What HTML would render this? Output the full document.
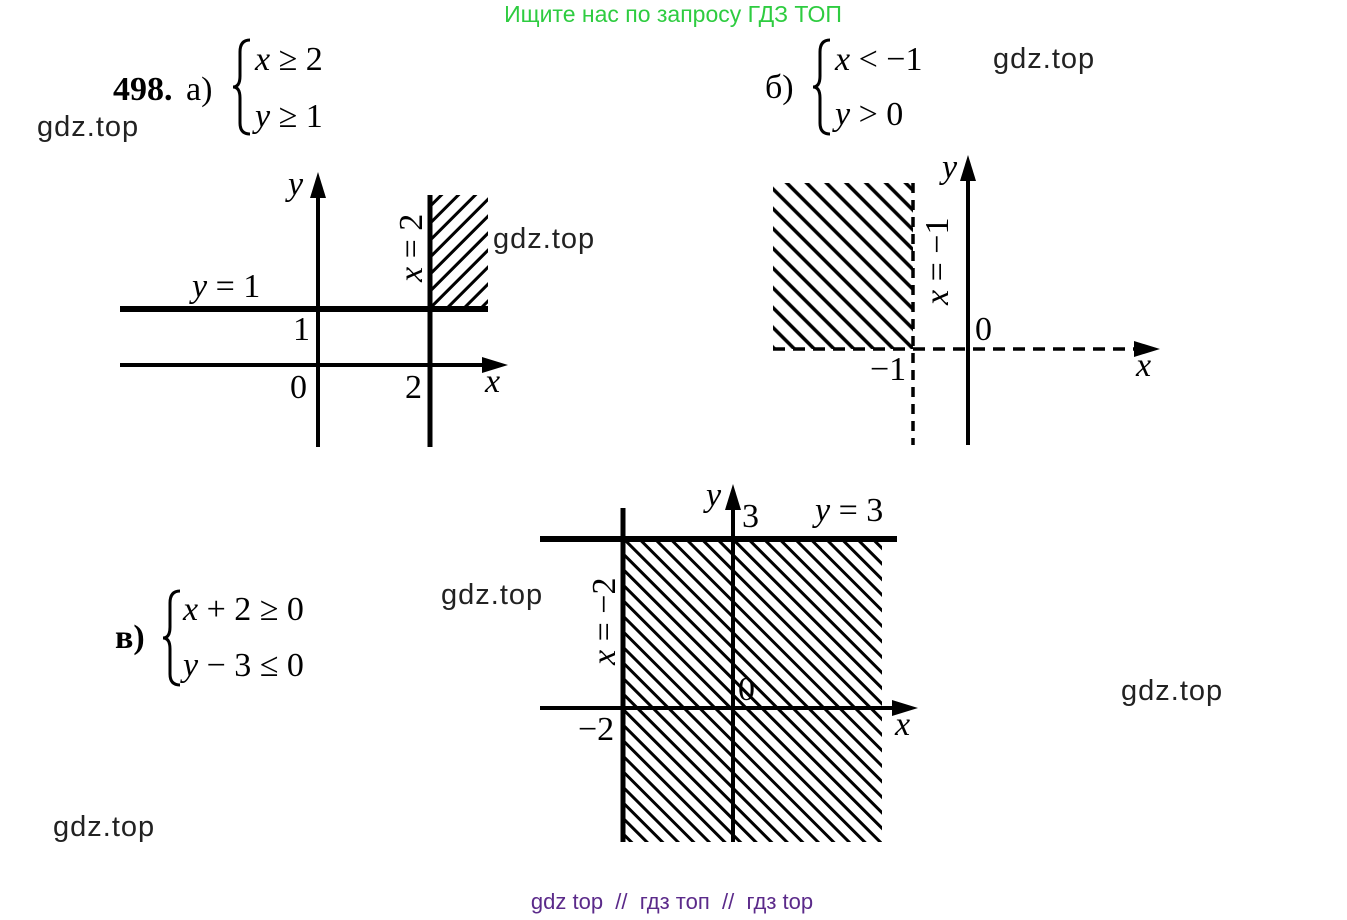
<!DOCTYPE html>
<html><head><meta charset="utf-8"><style>
body{margin:0;background:#fff}
svg{display:block}
.s{font-family:"Liberation Serif",serif;font-size:34px;fill:#000}
.i{font-style:italic}
.w{font-family:"Liberation Sans",sans-serif;font-size:29px;fill:#222;letter-spacing:1px}
</style></head><body>
<svg width="1347" height="920" viewBox="0 0 1347 920" xmlns="http://www.w3.org/2000/svg">
<defs>
<pattern id="pa" width="12" height="12" patternUnits="userSpaceOnUse" patternTransform="rotate(45)"><line x1="6" y1="0" x2="6" y2="12" stroke="#000" stroke-width="3"/></pattern>
<pattern id="pb" width="14" height="14" patternUnits="userSpaceOnUse" patternTransform="rotate(-45)"><line x1="7" y1="0" x2="7" y2="14" stroke="#000" stroke-width="3.5"/></pattern>
<pattern id="pc" width="11" height="11" patternUnits="userSpaceOnUse" patternTransform="rotate(-45)"><line x1="5" y1="0" x2="5" y2="11" stroke="#000" stroke-width="3"/></pattern>
</defs>
<text x="673" y="22" text-anchor="middle" font-family="Liberation Sans,sans-serif" font-size="23" fill="#2ecc40">Ищите нас по запросу ГДЗ ТОП</text>

<!-- a -->
<text x="113" y="100" class="s" font-weight="bold">498.</text>
<text x="186" y="100" class="s">а)</text>
<path d="M250 40 Q240 40 240 52 L240 76 Q240 87 233 87 Q240 87 240 98 L240 123 Q240 134 250 134" fill="none" stroke="#000" stroke-width="3"/>
<text x="255" y="70" class="s"><tspan class="i">x</tspan> ≥ 2</text>
<text x="255" y="127" class="s"><tspan class="i">y</tspan> ≥ 1</text>
<text x="37" y="136" class="w">gdz.top</text>

<rect x="430" y="195" width="58" height="114" fill="url(#pa)"/>
<line x1="318" y1="190" x2="318" y2="447" stroke="#000" stroke-width="4"/>
<polygon points="318,172 310,198 326,198"/>
<line x1="120" y1="365" x2="490" y2="365" stroke="#000" stroke-width="4"/>
<polygon points="508,365 482,357 482,373"/>
<line x1="120" y1="309" x2="488" y2="309" stroke="#000" stroke-width="6"/>
<line x1="430" y1="195" x2="430" y2="447" stroke="#000" stroke-width="5"/>
<text x="288" y="195" class="s i">y</text>
<text x="192" y="297" class="s"><tspan class="i">y</tspan> = 1</text>
<text x="293" y="340" class="s">1</text>
<text x="290" y="398" class="s">0</text>
<text x="405" y="398" class="s">2</text>
<text x="485" y="392" class="s i">x</text>
<text transform="translate(422,282) rotate(-90)" class="s"><tspan class="i">x</tspan> = 2</text>
<text x="493" y="248" class="w">gdz.top</text>

<!-- b -->
<text x="765" y="98" class="s">б)</text>
<path d="M830 40 Q820 40 820 52 L820 76 Q820 87 813 87 Q820 87 820 98 L820 123 Q820 134 830 134" fill="none" stroke="#000" stroke-width="3"/>
<text x="835" y="70" class="s"><tspan class="i">x</tspan> &lt; −1</text>
<text x="835" y="125" class="s"><tspan class="i">y</tspan> &gt; 0</text>
<text x="993" y="68" class="w">gdz.top</text>

<rect x="773" y="183" width="140" height="166" fill="url(#pb)"/>
<line x1="913" y1="183" x2="913" y2="445" stroke="#000" stroke-width="3.5" stroke-dasharray="10,7"/>
<line x1="773" y1="349" x2="1140" y2="349" stroke="#000" stroke-width="3.5" stroke-dasharray="12,8"/>
<polygon points="1160,349 1134,341 1134,357"/>
<line x1="968" y1="175" x2="968" y2="445" stroke="#000" stroke-width="4"/>
<polygon points="968,155 960,181 976,181"/>
<text x="942" y="178" class="s i">y</text>
<text transform="translate(948,305) rotate(-90)" class="s"><tspan class="i">x</tspan> = −1</text>
<text x="975" y="340" class="s">0</text>
<text x="870" y="380" class="s">−1</text>
<text x="1136" y="376" class="s i">x</text>

<!-- c -->
<text x="115" y="648" class="s" font-weight="bold">в)</text>
<path d="M180 591 Q170 591 170 603 L170 627 Q170 638 163 638 Q170 638 170 649 L170 674 Q170 685 180 685" fill="none" stroke="#000" stroke-width="3"/>
<text x="183" y="620" class="s"><tspan class="i">x</tspan> + 2 ≥ 0</text>
<text x="183" y="676" class="s"><tspan class="i">y</tspan> − 3 ≤ 0</text>
<text x="441" y="604" class="w">gdz.top</text>
<text x="1121" y="700" class="w">gdz.top</text>
<text x="53" y="836" class="w">gdz.top</text>

<rect x="623" y="539" width="259" height="303" fill="url(#pc)"/>
<line x1="623" y1="508" x2="623" y2="842" stroke="#000" stroke-width="5"/>
<line x1="733" y1="502" x2="733" y2="842" stroke="#000" stroke-width="4"/>
<polygon points="733,484 725,510 741,510"/>
<line x1="540" y1="539" x2="897" y2="539" stroke="#000" stroke-width="6"/>
<line x1="540" y1="708" x2="900" y2="708" stroke="#000" stroke-width="4"/>
<polygon points="918,708 892,700 892,716"/>
<text x="706" y="506" class="s i">y</text>
<text x="742" y="527" class="s">3</text>
<text x="815" y="521" class="s"><tspan class="i">y</tspan> = 3</text>
<text transform="translate(615,665) rotate(-90)" class="s"><tspan class="i">x</tspan> = −2</text>
<text x="738" y="700" class="s">0</text>
<text x="578" y="740" class="s">−2</text>
<text x="895" y="735" class="s i">x</text>

<text x="672" y="909" text-anchor="middle" font-family="Liberation Sans,sans-serif" font-size="22" fill="#5b2a8a" xml:space="preserve" style="white-space:pre">gdz top  //  гдз топ  //  гдз top</text>
</svg>
</body></html>
